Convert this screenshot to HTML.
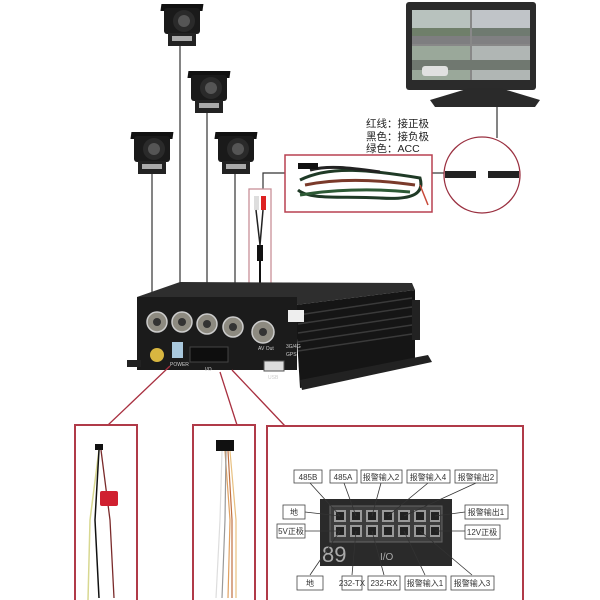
<!DOCTYPE html>
<html><head><meta charset="utf-8"><style>
html,body{margin:0;padding:0;background:#fff;}
svg{display:block;}
text{font-family:"Liberation Sans","Noto Sans CJK SC",sans-serif;}
</style></head><body>
<svg width="600" height="600" viewBox="0 0 600 600" xmlns="http://www.w3.org/2000/svg">
<defs>
<g id="cam">
<rect x="0" y="4" width="42" height="7" fill="#111" transform="skewX(-8)"/>
<rect x="2" y="8" width="36" height="26" rx="3" fill="#1a1a1a"/>
<circle cx="22" cy="21" r="11" fill="#2a2a2a"/>
<circle cx="22" cy="21" r="6" fill="#555"/>
<rect x="6" y="33" width="28" height="13" fill="#222"/>
<rect x="10" y="36" width="20" height="5" fill="#aaa"/>
</g>
</defs>
<rect width="600" height="600" fill="#fff"/>
<g stroke="#333" stroke-width="1.2">
<line x1="180" y1="46" x2="180" y2="305"/>
<line x1="207" y1="113" x2="207" y2="308"/>
<line x1="152" y1="173" x2="152" y2="305"/>
<line x1="235" y1="173" x2="235" y2="312"/>
<line x1="497" y1="105" x2="497" y2="138"/>
<polyline points="263,190 263,173 285,173" fill="none"/>
<line x1="432" y1="173" x2="445" y2="173"/>
</g>
<use href="#cam" x="162" y="0"/>
<use href="#cam" x="189" y="67"/>
<use href="#cam" x="132" y="128"/>
<use href="#cam" x="216" y="128"/>
<!-- monitor -->
<rect x="406" y="2" width="130" height="88" rx="3" fill="#2b2b2b"/>
<rect x="412" y="10" width="118" height="70" fill="#888"/>
<rect x="412" y="10" width="58" height="34" fill="#b8c2be"/>
<rect x="472" y="10" width="58" height="34" fill="#c0c4c8"/>
<rect x="412" y="46" width="58" height="34" fill="#9aa89a"/>
<rect x="472" y="46" width="58" height="34" fill="#b0b6b4"/>
<rect x="412" y="28" width="58" height="8" fill="#6f7f6a"/>
<rect x="472" y="28" width="58" height="8" fill="#6f7a70"/>
<rect x="412" y="36" width="58" height="8" fill="#7e7e80"/>
<rect x="472" y="36" width="58" height="8" fill="#808082"/>
<rect x="412" y="60" width="118" height="10" fill="#707870"/>
<rect x="422" y="66" width="26" height="10" rx="3" fill="#e0e0e0"/>
<path d="M430 100 L470 88 L500 88 L540 100 L535 107 L435 107 Z" fill="#2a2a2a"/>
<text x="366" y="127" font-size="10.5" fill="#222">红线：接正极</text>
<text x="366" y="140" font-size="10.5" fill="#222">黑色：接负极</text>
<text x="366" y="152" font-size="10.5" fill="#222">绿色：ACC</text>
<rect x="285" y="155" width="147" height="57" fill="#fff" stroke="#b84050" stroke-width="1.5"/>
<g fill="none" stroke-width="3">
<path d="M300 180 C330 165 370 170 420 178 C425 195 410 200 380 198 C340 196 310 200 298 190" stroke="#1f3a26"/>
<path d="M305 185 C340 178 380 180 415 185" stroke="#7a3a2a"/>
<path d="M300 195 C330 190 370 188 410 192" stroke="#2d5a35"/>
<path d="M310 170 C330 165 350 168 380 172" stroke="#222"/>
<path d="M420 185 L428 205" stroke="#c84a3a" stroke-width="1.5"/>
</g>
<rect x="298" y="163" width="20" height="6" fill="#111"/>
<circle cx="482" cy="175" r="38" fill="#fff" stroke="#9a3040" stroke-width="1.3"/>
<rect x="445" y="171" width="31" height="7" fill="#222"/>
<rect x="488" y="171" width="31" height="7" fill="#222"/>
<rect x="249" y="189" width="22" height="140" fill="#fff" stroke="#c89098" stroke-width="1.3"/>
<rect x="254" y="196" width="5" height="14" fill="#ddd"/>
<rect x="261" y="196" width="5" height="14" fill="#d22"/>
<path d="M256 210 L260 245 M263 210 L260 245" stroke="#222" stroke-width="1.5" fill="none"/>
<rect x="257" y="245" width="6" height="16" fill="#111"/>
<line x1="260" y1="261" x2="260" y2="325" stroke="#111" stroke-width="2"/>
<path d="M137 297 L180 282 L412 283 L415 290 L295 305 Z" fill="#2e2e2e"/>
<path d="M295 305 L415 290 L415 365 L300 388 Z" fill="#151515"/>
<g stroke="#3a3a3a" stroke-width="1.5">
<line x1="298" y1="315" x2="412" y2="298"/>
<line x1="298" y1="324" x2="412" y2="307"/>
<line x1="298" y1="333" x2="412" y2="316"/>
<line x1="298" y1="342" x2="412" y2="325"/>
<line x1="298" y1="351" x2="412" y2="334"/>
</g>
<path d="M300 380 L428 355 L432 362 L302 390 Z" fill="#222"/>
<rect x="412" y="300" width="8" height="40" fill="#222"/>
<rect x="137" y="297" width="160" height="73" fill="#1b1b1b"/>
<rect x="127" y="360" width="14" height="7" fill="#222"/>
<rect x="288" y="310" width="16" height="12" fill="#eee"/>
<g fill="#8d8a80" stroke="#ccc" stroke-width="1.5">
<circle cx="157" cy="322" r="10"/>
<circle cx="182" cy="322" r="10"/>
<circle cx="207" cy="324" r="10"/>
<circle cx="233" cy="327" r="10"/>
<circle cx="263" cy="332" r="11"/>
</g>
<g fill="#333"><circle cx="157" cy="322" r="4"/><circle cx="182" cy="322" r="4"/><circle cx="207" cy="324" r="4"/><circle cx="233" cy="327" r="4"/><circle cx="263" cy="332" r="4"/></g>
<circle cx="157" cy="355" r="7" fill="#d8b640"/>
<rect x="172" y="342" width="11" height="16" fill="#a9c8dd"/>
<rect x="190" y="347" width="38" height="15" fill="#0e0e0e" stroke="#444"/>
<rect x="264" y="361" width="20" height="10" fill="#ddd" stroke="#555"/>
<g font-size="5" fill="#ccc">
<text x="170" y="366">POWER</text><text x="205" y="371">I/O</text><text x="268" y="379">USB</text>
<text x="258" y="350">AV Out</text><text x="286" y="348">3G/4G</text><text x="286" y="356">GPS</text>
</g>
<g stroke="#a83040" stroke-width="1.3">
<line x1="170" y1="366" x2="108" y2="425"/>
<line x1="220" y1="372" x2="237" y2="425"/>
<line x1="232" y1="370" x2="285" y2="426"/>
</g>
<g fill="#fff" stroke="#b03a48" stroke-width="2">
<rect x="75" y="425" width="62" height="180"/>
<rect x="193" y="425" width="62" height="180"/>
<rect x="267" y="426" width="256" height="180"/>
</g>
<rect x="95" y="444" width="8" height="6" fill="#111"/>
<path d="M99 450 L90 520 L88 600" stroke="#d8d890" stroke-width="1.5" fill="none"/>
<path d="M99 450 L95 520 L99 598" stroke="#111" stroke-width="1.5" fill="none"/>
<path d="M101 450 L110 520 L114 598" stroke="#7a2a2a" stroke-width="1.3" fill="none"/>
<rect x="100" y="491" width="18" height="15" rx="2" fill="#d02030"/>
<rect x="216" y="440" width="18" height="11" fill="#111"/>
<g fill="none" stroke-width="1.2">
<path d="M225 451 L230 520 L228 598" stroke="#e0a060"/>
<path d="M228 451 L232 520 L232 598" stroke="#c07040"/>
<path d="M222 451 L220 520 L216 598" stroke="#ddd"/>
<path d="M230 451 L236 520 L236 598" stroke="#e8c080"/>
<path d="M226 451 L225 520 L222 598" stroke="#999"/>
</g>
<rect x="320" y="499" width="132" height="67" fill="#2a2a2a"/>
<rect x="330" y="506" width="112" height="36" fill="#3d3d3d" stroke="#666"/>
<g fill="#999">
<rect x="334" y="510" width="12" height="12"/><rect x="350" y="510" width="12" height="12"/><rect x="366" y="510" width="12" height="12"/><rect x="382" y="510" width="12" height="12"/><rect x="398" y="510" width="12" height="12"/><rect x="414" y="510" width="12" height="12"/><rect x="430" y="510" width="10" height="12"/>
<rect x="334" y="525" width="12" height="12"/><rect x="350" y="525" width="12" height="12"/><rect x="366" y="525" width="12" height="12"/><rect x="382" y="525" width="12" height="12"/><rect x="398" y="525" width="12" height="12"/><rect x="414" y="525" width="12" height="12"/><rect x="430" y="525" width="10" height="12"/>
</g>
<g fill="#222">
<rect x="336" y="512" width="8" height="8"/><rect x="352" y="512" width="8" height="8"/><rect x="368" y="512" width="8" height="8"/><rect x="384" y="512" width="8" height="8"/><rect x="400" y="512" width="8" height="8"/><rect x="416" y="512" width="8" height="8"/><rect x="431" y="512" width="8" height="8"/>
<rect x="336" y="527" width="8" height="8"/><rect x="352" y="527" width="8" height="8"/><rect x="368" y="527" width="8" height="8"/><rect x="384" y="527" width="8" height="8"/><rect x="400" y="527" width="8" height="8"/><rect x="416" y="527" width="8" height="8"/><rect x="431" y="527" width="8" height="8"/>
</g>
<text x="322" y="562" font-size="22" fill="#aaa">89</text>
<text x="380" y="560" font-size="10" fill="#aaa">I/O</text>
<g stroke="#333" stroke-width="0.8">
<line x1="310" y1="483" x2="340" y2="516"/><line x1="344" y1="483" x2="356" y2="516"/>
<line x1="381" y1="483" x2="372" y2="516"/><line x1="428" y1="483" x2="388" y2="516"/>
<line x1="476" y1="483" x2="404" y2="516"/>
<line x1="305" y1="512" x2="340" y2="516"/><line x1="305" y1="531" x2="340" y2="531"/>
<line x1="465" y1="512" x2="435" y2="516"/><line x1="465" y1="531" x2="435" y2="531"/>
<line x1="310" y1="575" x2="340" y2="531"/><line x1="352" y1="575" x2="356" y2="531"/>
<line x1="384" y1="575" x2="372" y2="531"/><line x1="425" y1="575" x2="404" y2="531"/>
<line x1="472" y1="575" x2="420" y2="531"/>
</g>
<g fill="#fff" stroke="#444" stroke-width="0.8">
<rect x="294" y="470" width="28" height="13"/><rect x="330" y="470" width="27" height="13"/>
<rect x="361" y="470" width="41" height="13"/><rect x="407" y="470" width="43" height="13"/>
<rect x="455" y="470" width="42" height="13"/>
<rect x="283" y="505" width="22" height="14"/><rect x="277" y="524" width="28" height="14"/>
<rect x="465" y="505" width="43" height="14"/><rect x="465" y="525" width="35" height="14"/>
<rect x="297" y="576" width="26" height="14"/><rect x="342" y="576" width="20" height="14"/>
<rect x="368" y="576" width="32" height="14"/><rect x="405" y="576" width="41" height="14"/>
<rect x="451" y="576" width="43" height="14"/>
</g>
<g font-size="8" fill="#333" text-anchor="middle">
<text x="308" y="480">485B</text><text x="343" y="480">485A</text>
<text x="381" y="480">报警输入2</text><text x="428" y="480">报警输入4</text><text x="476" y="480">报警输出2</text>
<text x="294" y="515">地</text><text x="291" y="534">5V正极</text>
<text x="486" y="515">报警输出1</text><text x="482" y="535">12V正极</text>
<text x="310" y="586">地</text><text x="352" y="586">232-TX</text><text x="384" y="586">232-RX</text>
<text x="425" y="586">报警输入1</text><text x="472" y="586">报警输入3</text>
</g>
</svg>
</body></html>
